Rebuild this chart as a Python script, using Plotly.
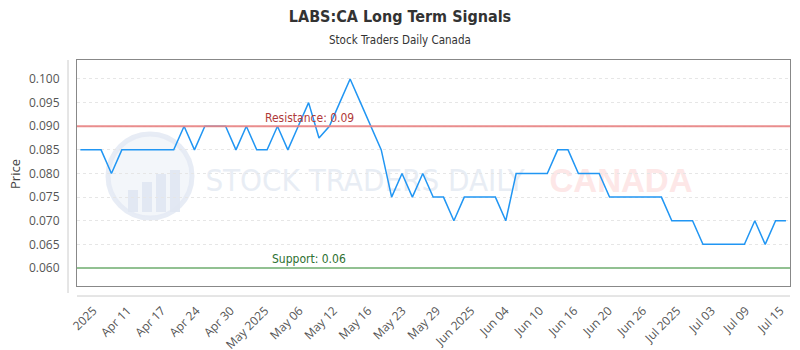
import plotly.graph_objects as go

# ---------------- data ----------------
prices = [0.085, 0.085, 0.085, 0.080, 0.085, 0.085, 0.085, 0.085, 0.085, 0.085,
          0.090, 0.085, 0.090, 0.090, 0.090, 0.085, 0.090, 0.085, 0.085, 0.090,
          0.085, 0.090, 0.095, 0.0875, 0.090, 0.095, 0.100, 0.095, 0.090, 0.085,
          0.075, 0.080, 0.075, 0.080, 0.075, 0.075, 0.070, 0.075, 0.075, 0.075,
          0.075, 0.070, 0.080, 0.080, 0.080, 0.080, 0.085, 0.085, 0.080, 0.080,
          0.080, 0.075, 0.075, 0.075, 0.075, 0.075, 0.075, 0.070, 0.070, 0.070,
          0.065, 0.065, 0.065, 0.065, 0.065, 0.070, 0.065, 0.070, 0.070]
x_index = list(range(len(prices)))

tick_labels = ["2025", "Apr 11", "Apr 17", "Apr 24", "Apr 30", "May 2025", "May 06",
               "May 12", "May 16", "May 23", "May 29", "Jun 2025", "Jun 04", "Jun 10",
               "Jun 16", "Jun 20", "Jun 26", "Jul 2025", "Jul 03", "Jul 09", "Jul 15"]

y_ticks = [0.060, 0.065, 0.070, 0.075, 0.080, 0.085, 0.090, 0.095, 0.100]

resistance = 0.09
support = 0.06

# ---------------- layout helpers ----------------
tick_start = 1.25
tick_step = 3.31
tick_pos = [tick_start + tick_step * i for i in range(len(tick_labels))]

COND = "DejaVu Sans Condensed, Roboto, sans-serif"

W, H = 800, 350
L, R, T, B = 77, 10, 60, 64
pw, ph = W - L - R, H - T - B


def px_x(px):
    return (px - L) / pw


def px_y(py):
    return (H - B - py) / ph


fig = go.Figure()

fig.add_trace(go.Scatter(
    x=x_index, y=prices, mode="lines",
    line=dict(color="#2196f3", width=1.5),
    hoverinfo="y", showlegend=False,
))

shapes = []
# watermark logo circle
shapes.append(dict(type="circle", xref="paper", yref="paper", layer="below",
                   x0=px_x(108), x1=px_x(192), y0=px_y(218), y1=px_y(134),
                   fillcolor="rgba(238,242,248,0.7)",
                   line=dict(color="rgba(228,234,244,0.9)", width=5)))
for bx, top in [(128, 190), (142, 182), (156, 174), (170, 170)]:
    shapes.append(dict(type="rect", xref="paper", yref="paper", layer="below",
                       x0=px_x(bx), x1=px_x(bx + 10), y0=px_y(212), y1=px_y(top),
                       fillcolor="rgba(224,231,242,0.9)", line=dict(width=0)))
# watermark texts
shapes.append(dict(type="rect", xref="paper", yref="paper", layer="below",
                   x0=px_x(200), x1=px_x(530), y0=px_y(200), y1=px_y(155),
                   line=dict(width=0), fillcolor="rgba(0,0,0,0)",
                   label=dict(text="STOCK TRADERS DAILY", textposition="middle center",
                              font=dict(family=COND, size=31,
                                        color="rgba(228,234,243,0.85)"))))
shapes.append(dict(type="rect", xref="paper", yref="paper", layer="below",
                   x0=px_x(542), x1=px_x(700), y0=px_y(200), y1=px_y(155),
                   line=dict(width=0), fillcolor="rgba(0,0,0,0)",
                   label=dict(text="<b>CANADA</b>", textposition="middle center",
                              font=dict(family="Liberation Sans, Arial", size=33,
                                        color="rgba(253,228,228,0.9)"))))
# resistance / support lines
shapes.append(dict(type="line", xref="paper", yref="y", x0=0, x1=1,
                   y0=resistance, y1=resistance,
                   line=dict(color="rgba(232,130,130,0.9)", width=2)))
shapes.append(dict(type="line", xref="paper", yref="y", x0=0, x1=1,
                   y0=support, y1=support,
                   line=dict(color="rgba(140,190,140,0.95)", width=2)))
# offset axis lines
shapes.append(dict(type="line", xref="paper", yref="paper",
                   x0=px_x(68), x1=px_x(68), y0=px_y(60), y1=px_y(293),
                   line=dict(color="#cccccc", width=1)))
shapes.append(dict(type="line", xref="paper", yref="paper",
                   x0=0, x1=1, y0=px_y(296), y1=px_y(296),
                   line=dict(color="#cccccc", width=1)))

annotations = [
    dict(text="Stock Traders Daily Canada", xref="paper", yref="paper",
         x=px_x(400), y=px_y(40), showarrow=False, xanchor="center", yanchor="middle",
         font=dict(family=COND, size=11.5, color="#333333")),
    dict(text="Price", xref="paper", yref="paper", x=px_x(15), y=px_y(174),
         showarrow=False, textangle=-90, xanchor="center", yanchor="middle",
         font=dict(family="Open Sans", size=13, color="#444444")),
    dict(text=f"Resistance: {resistance:g}", xref="paper", yref="y",
         x=px_x(309), y=resistance, yshift=8, showarrow=False,
         xanchor="center", yanchor="middle",
         font=dict(family=COND, size=12, color="#b03a3a")),
    dict(text=f"Support: {support:g}", xref="paper", yref="y",
         x=px_x(309), y=support, yshift=9, showarrow=False,
         xanchor="center", yanchor="middle",
         font=dict(family=COND, size=12, color="#2e7031")),
]

fig.update_layout(
    width=W, height=H,
    margin=dict(l=L, r=R, t=T, b=B, pad=0, autoexpand=False),
    paper_bgcolor="white", plot_bgcolor="white",
    title=dict(text="<b>LABS:CA Long Term Signals</b>", x=0.5, xanchor="center",
               xref="container", y=1 - 16 / H, yanchor="middle", yref="container",
               font=dict(family=COND, size=16, color="#333333")),
    shapes=shapes, annotations=annotations,
    xaxis=dict(range=[-0.32, 68.39], tickmode="array", tickvals=tick_pos,
               ticktext=tick_labels, tickangle=-45, showgrid=False, zeroline=False,
               automargin=False,
               showline=True, mirror=True, linecolor="#888888", linewidth=1,
               ticks="outside", ticklen=12, tickcolor="rgba(0,0,0,0)",
               tickfont=dict(family="Open Sans", size=12, color="#555555")),
    yaxis=dict(range=[0.05619, 0.10402], tickmode="array", tickvals=y_ticks,
               tickformat=".3f", showgrid=True, gridcolor="#e6e6e6",
               griddash="3px,3px", zeroline=False, automargin=False,
               showline=True, mirror=True, linecolor="#888888", linewidth=1,
               ticks="outside", ticklen=14, tickcolor="rgba(0,0,0,0)",
               tickfont=dict(family="Open Sans", size=12, color="#555555")),
)

fig.write_html("out.html")
